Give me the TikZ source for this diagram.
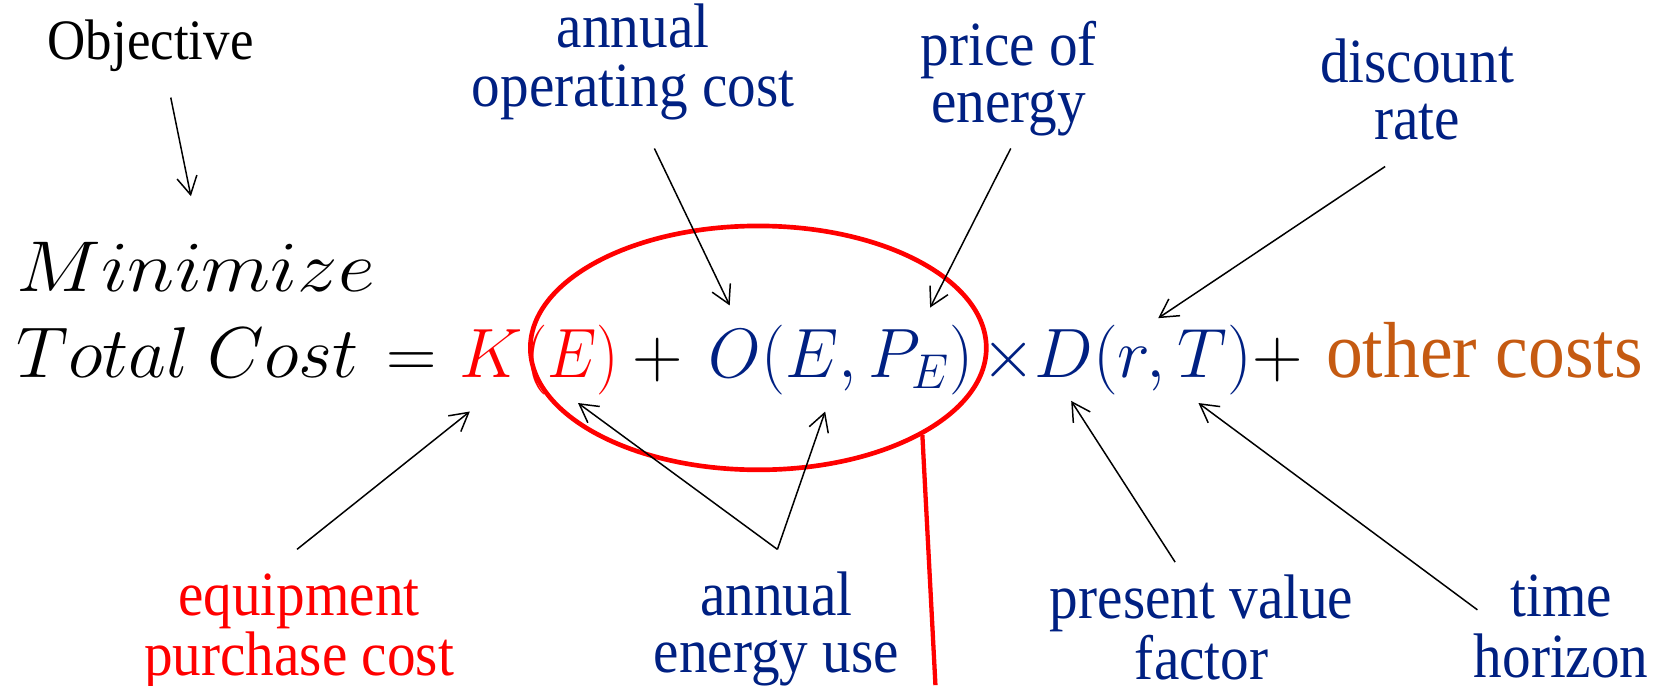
\RequirePackage{fix-cm}
\documentclass[tikz,border=0pt]{standalone}
\usepackage{fontspec}
\setmainfont{Liberation Serif}
\usetikzlibrary{arrows.meta,shapes.geometric}
\definecolor{navy}{RGB}{0,32,130}
\definecolor{rust}{RGB}{197,90,17}
\newcommand{\sx}[2]{\scalebox{#1}[1]{#2}}
\newcommand{\twol}[2]{\scalebox{1}[1.1]{\begin{tabular}[t]{@{}c@{}}#1\\#2\end{tabular}}}
\tikzset{
  lbl/.style={font=\fontsize{30.7}{27.9}\selectfont, anchor=base, inner sep=0pt},
  eqp/.style={font=\fontsize{37.5}{40}\selectfont, anchor=base west, inner sep=0pt},
  eqc/.style={font=\fontsize{37.5}{40}\selectfont, anchor=base, inner sep=0pt},
  arr/.style={-{Straight Barb[length=3.4mm,width=3.8mm]}, line width=0.8pt, black},
  ring/.style={draw=red, line width=2.5pt, ellipse, inner sep=0pt,
    minimum width=8.6cm, minimum height=4.6cm},
}
\begin{document}
\begin{tikzpicture}[x=0.02cm, y=-0.02cm]
\useasboundingbox (0,0) rectangle (1568,646);
% objective
\node[lbl, font=\fontsize{28.4}{30}\selectfont] (obj) at (142,56) {\scalebox{1}[1.08]{Objective}};
% equation
\node[eqp] (mini) at (15,275) {\sx{1.12}{\scalebox{1.03}{$Minimize$}}};
\node[eqp] (tc) at (15,356) {\sx{1.02}{\scalebox{1.03}{$Total\ Cost$}}};
\node[eqc] (eq) at (388,356) {$=$};
\node[eqp, text=red] (K) at (433,356) {$K$};
\node[eqp, text=red] (KE) at (495,356) {\sx{0.9}{$(E)$}};
\node[eqc] (p1) at (620,356) {$+$};
\node[eqp, text=navy] (O) at (668,356) {\sx{0.97}{$O(E,P_E)$}};
\node[eqc, text=navy] (x) at (951,356) {$\times$};
\node[eqp, text=navy] (D) at (975,356) {$D(r,T)$};
\node[eqc] (p2) at (1205,356) {$+$};
\node[eqp, text=rust, font=\fontsize{39.5}{42}\selectfont] (oc) at (1250,356) {\scalebox{1}[1.08]{other costs}};
% ring and red line
\node[ring] (circ) at (715,328) {};
\coordinate (rl) at (882,646);
\draw[red, line width=2.3pt] (circ.-28) -- (rl);
% labels
\node[lbl, text=navy] (aoc) at (597,45) {\twol{annual}{operating cost}};
\node[lbl, text=navy] (poe) at (951,62) {\twol{price of}{energy}};
\node[lbl, text=navy] (dr) at (1336,78) {\twol{discount}{rate}};
\node[lbl, text=red] (epc) at (282,580) {\twol{equipment}{purchase cost}};
\node[lbl, text=navy] (aeu) at (732,580) {\twol{annual}{energy use}};
\node[lbl, text=navy] (pvf) at (1133,583) {\twol{present value}{factor}};
\node[lbl, text=navy] (th) at (1472,581) {\twol{time}{horizon}};
% arrow end points
\coordinate (s0) at (161,92);   \coordinate (t0) at (180,185);
\coordinate (s1) at (617,140);  \coordinate (t1) at (688,288);
\coordinate (s2) at (953,140);  \coordinate (t2) at (877,290);
\coordinate (s3) at (1306,157); \coordinate (t3) at (1092,300);
\coordinate (s4) at (280,518);  \coordinate (t4) at (443,388);
\coordinate (s5) at (733,518);  \coordinate (t5) at (545,380);
\coordinate (t6) at (778,388);
\coordinate (s7) at (1108,530); \coordinate (t7) at (1010,378);
\coordinate (s8) at (1393,575); \coordinate (t8) at (1130,380);
\draw[arr] (s0) -- (t0);
\draw[arr] (s1) -- (t1);
\draw[arr] (s2) -- (t2);
\draw[arr] (s3) -- (t3);
\draw[arr] (s4) -- (t4);
\draw[arr] (s5) -- (t5);
\draw[arr] (s5) -- (t6);
\draw[arr] (s7) -- (t7);
\draw[arr] (s8) -- (t8);
\end{tikzpicture}
\end{document}
